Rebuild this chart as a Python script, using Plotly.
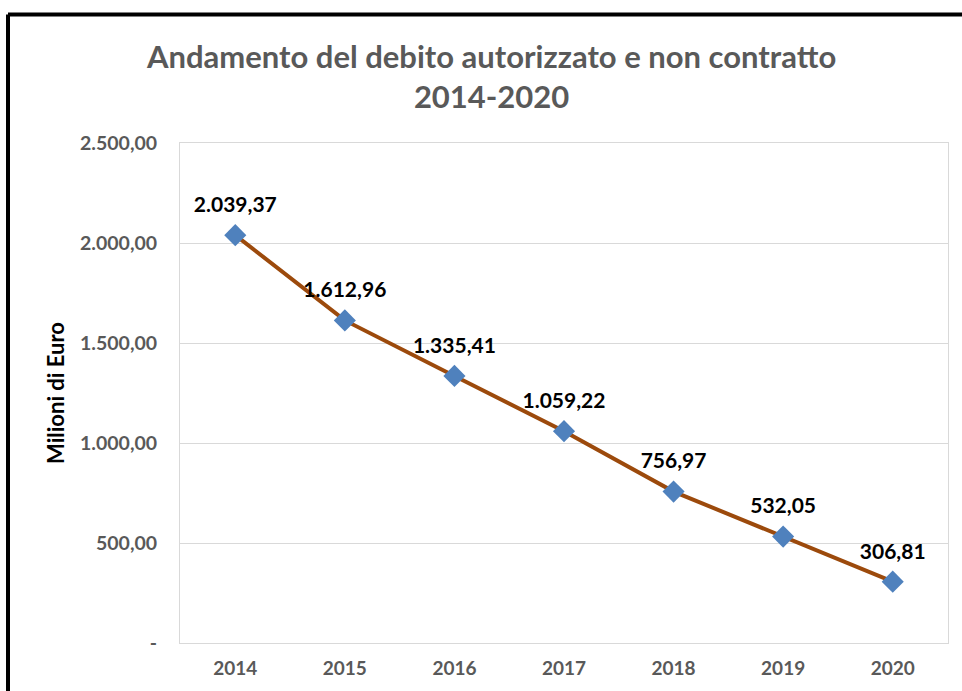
import plotly.graph_objects as go

years = ["2014", "2015", "2016", "2017", "2018", "2019", "2020"]
debito = [2039.37, 1612.96, 1335.41, 1059.22, 756.97, 532.05, 306.81]
ytick_vals = [0, 500, 1000, 1500, 2000, 2500]
ytick_text = ["-", "500,00", "1.000,00", "1.500,00", "2.000,00", "2.500,00"]

FONT = "Lato"

fig = go.Figure()
fig.add_trace(go.Scatter(
    x=years, y=debito, mode="lines+markers",
    line=dict(color="#9C4A0C", width=4),
    marker=dict(symbol="diamond", size=17, color="#4F81BD"),
    cliponaxis=False, showlegend=False, hoverinfo="skip",
))
# data labels (invisible larger marker gives the label offset)
fig.add_trace(go.Scatter(
    x=years, y=debito, mode="markers+text",
    marker=dict(size=27, color="rgba(0,0,0,0)"),
    texttemplate="%{y:,.2f}", textposition="top center",
    textfont=dict(family=FONT, size=21, color="#000000", weight="bold"),
    cliponaxis=False, showlegend=False,
))

W, H = 962, 691
L, R, T, B = 180, 14, 143, 48
pw, ph = W - L - R, H - T - B
def px(x): return (x - L) / pw
def py(y): return (H - B - y) / ph

fig.add_shape(type="line", xref="paper", yref="paper",
              x0=px(8), x1=px(970), y0=py(14.5), y1=py(14.5),
              line=dict(color="black", width=4))
fig.add_shape(type="line", xref="paper", yref="paper",
              x0=px(8), x1=px(8), y0=py(14.5), y1=py(700),
              line=dict(color="black", width=4))

fig.update_layout(
    width=W, height=H, separators=",.",
    margin=dict(l=L, r=R, t=T, b=B),
    paper_bgcolor="white", plot_bgcolor="white",
    title=dict(text="Andamento del debito autorizzato e non contratto<br>2014-2020",
               x=0.511, xanchor="center", y=1 - 68 / H, yanchor="middle",
               font=dict(family=FONT, size=31, color="#595959", weight="bold")),
    xaxis=dict(showgrid=False, showline=True, mirror=True, linecolor="#d9d9d9",
               ticks="", ticklabelstandoff=8,
               tickfont=dict(family=FONT, size=19, color="#595959", weight="bold")),
    yaxis=dict(range=[0, 2500], tickvals=ytick_vals, ticktext=ytick_text,
               showgrid=True, gridcolor="#d9d9d9", showline=True, mirror=True,
               linecolor="#d9d9d9", zeroline=False, ticks="", ticklabelstandoff=18,
               tickfont=dict(family=FONT, size=19.5, color="#595959", weight="bold"),
               title=dict(text="Milioni di Euro", standoff=9,
                          font=dict(family=FONT, size=22, color="#000000", weight="bold"))),
)
fig.write_html("out.html", config={"displayModeBar": False},
               post_script="document.body.style.margin='0';document.body.style.overflow='hidden';")
